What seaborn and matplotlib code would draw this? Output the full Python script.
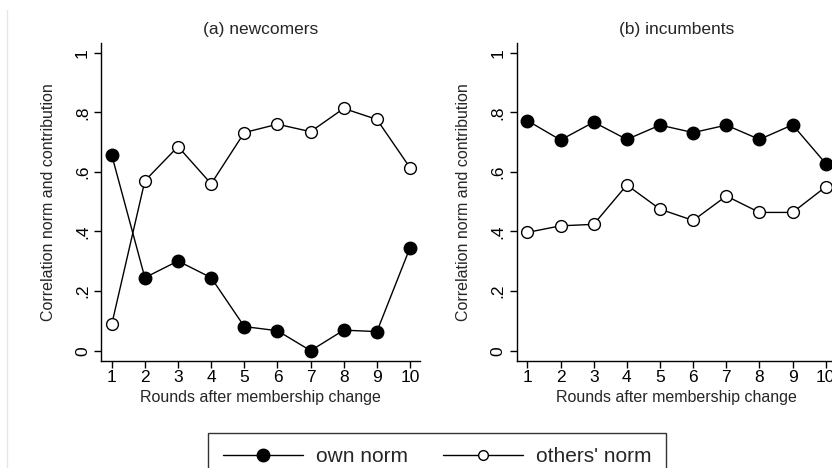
import matplotlib
matplotlib.use("Agg")
import matplotlib.pyplot as plt
from matplotlib.lines import Line2D
import seaborn as sns
import pandas as pd

rounds = [1, 2, 3, 4, 5, 6, 7, 8, 9, 10]
newcomers_own = [0.657, 0.245, 0.301, 0.245, 0.081, 0.067, 0.0, 0.069, 0.064, 0.346]
newcomers_others = [0.088, 0.570, 0.685, 0.560, 0.732, 0.760, 0.735, 0.813, 0.776, 0.614]
incumbents_own = [0.772, 0.707, 0.767, 0.709, 0.757, 0.732, 0.757, 0.709, 0.758, 0.628]
incumbents_others = [0.397, 0.419, 0.424, 0.556, 0.475, 0.437, 0.519, 0.464, 0.464, 0.550]
panel_titles = ["(a) newcomers", "(b) incumbents"]
series_labels = ["own norm", "others' norm"]
y_ticks = [0, 0.2, 0.4, 0.6, 0.8, 1.0]
y_ticklabels = ["0", ".2", ".4", ".6", ".8", "1"]
x_label = "Rounds after membership change"
y_label = "Correlation norm and contribution"

sns.set_style("white")
plt.rcParams["font.family"] = ["Liberation Sans", "DejaVu Sans"]

W, H = 832, 468
fig = plt.figure(figsize=(W / 100, H / 100), dpi=100)

def pos(x0, x1, ytop, ybot):
    return [x0 / W, 1 - ybot / H, (x1 - x0) / W, (ybot - ytop) / H]

axes = [fig.add_axes(pos(101, 420, 42.7, 360.7)),
        fig.add_axes(pos(516.7, 835.7, 42.7, 360.7))]

data = [(newcomers_own, newcomers_others), (incumbents_own, incumbents_others)]

for ax, title, (own, others) in zip(axes, panel_titles, data):
    df = pd.DataFrame({"round": rounds, "own": own, "others": others})
    sns.lineplot(data=df, x="round", y="own", ax=ax, color="black", lw=1.0,
                 marker="o", markersize=9, markerfacecolor="black",
                 markeredgecolor="black", markeredgewidth=1.0)
    sns.lineplot(data=df, x="round", y="others", ax=ax, color="black", lw=1.0,
                 marker="o", markersize=8.5, markerfacecolor="white",
                 markeredgecolor="black", markeredgewidth=1.0)
    ax.set_xlim(0.677, 10.3)
    ax.set_ylim(-0.0336, 1.0336)
    ax.set_xticks(rounds)
    ax.set_xticklabels([str(r) for r in rounds], fontsize=12.5)
    ax.set_yticks(y_ticks)
    ax.set_yticklabels(y_ticklabels, fontsize=12.5, rotation=90, va="center")
    ax.tick_params(axis="both", direction="out", length=5, width=1, color="black",
                   labelcolor="black", left=True, bottom=True)
    ax.tick_params(axis="y", pad=3)
    ax.tick_params(axis="x", pad=1.5)
    for s in ["top", "right"]:
        ax.spines[s].set_visible(False)
    for s in ["left", "bottom"]:
        ax.spines[s].set_color("black")
        ax.spines[s].set_linewidth(1.0)
    ax.set_xlabel(x_label, fontsize=11.5, va="center")
    ax.xaxis.set_label_coords(0.5, -0.115)
    ax.set_ylabel(y_label, fontsize=11.5, va="center")
    ax.yaxis.set_label_coords(-0.166, 0.5)
    ax.text(0.5, 1.0415, title, transform=ax.transAxes, ha="center", va="center",
            fontsize=12.5)
    ax.grid(False)

handles = [
    Line2D([], [], color="black", lw=1.0, marker="o", markersize=9,
           markerfacecolor="black", markeredgecolor="black"),
    Line2D([], [], color="black", lw=1.0, marker="o", markersize=7,
           markerfacecolor="white", markeredgecolor="black"),
]
leg = fig.legend(handles, series_labels, loc="upper center",
                 bbox_to_anchor=(437 / W, 1 - 433 / H), ncol=2, fontsize=15,
                 frameon=True, fancybox=False, edgecolor="black",
                 handlelength=3.85, columnspacing=1.7, handletextpad=0.6,
                 borderpad=0.69, borderaxespad=0)
leg.get_frame().set_linewidth(1.0)

fig.add_artist(Line2D([7 / W, 7 / W], [0, 1 - 10 / H], color="#e6e6e6", lw=1.0))

fig.savefig("out.png", dpi=100)
